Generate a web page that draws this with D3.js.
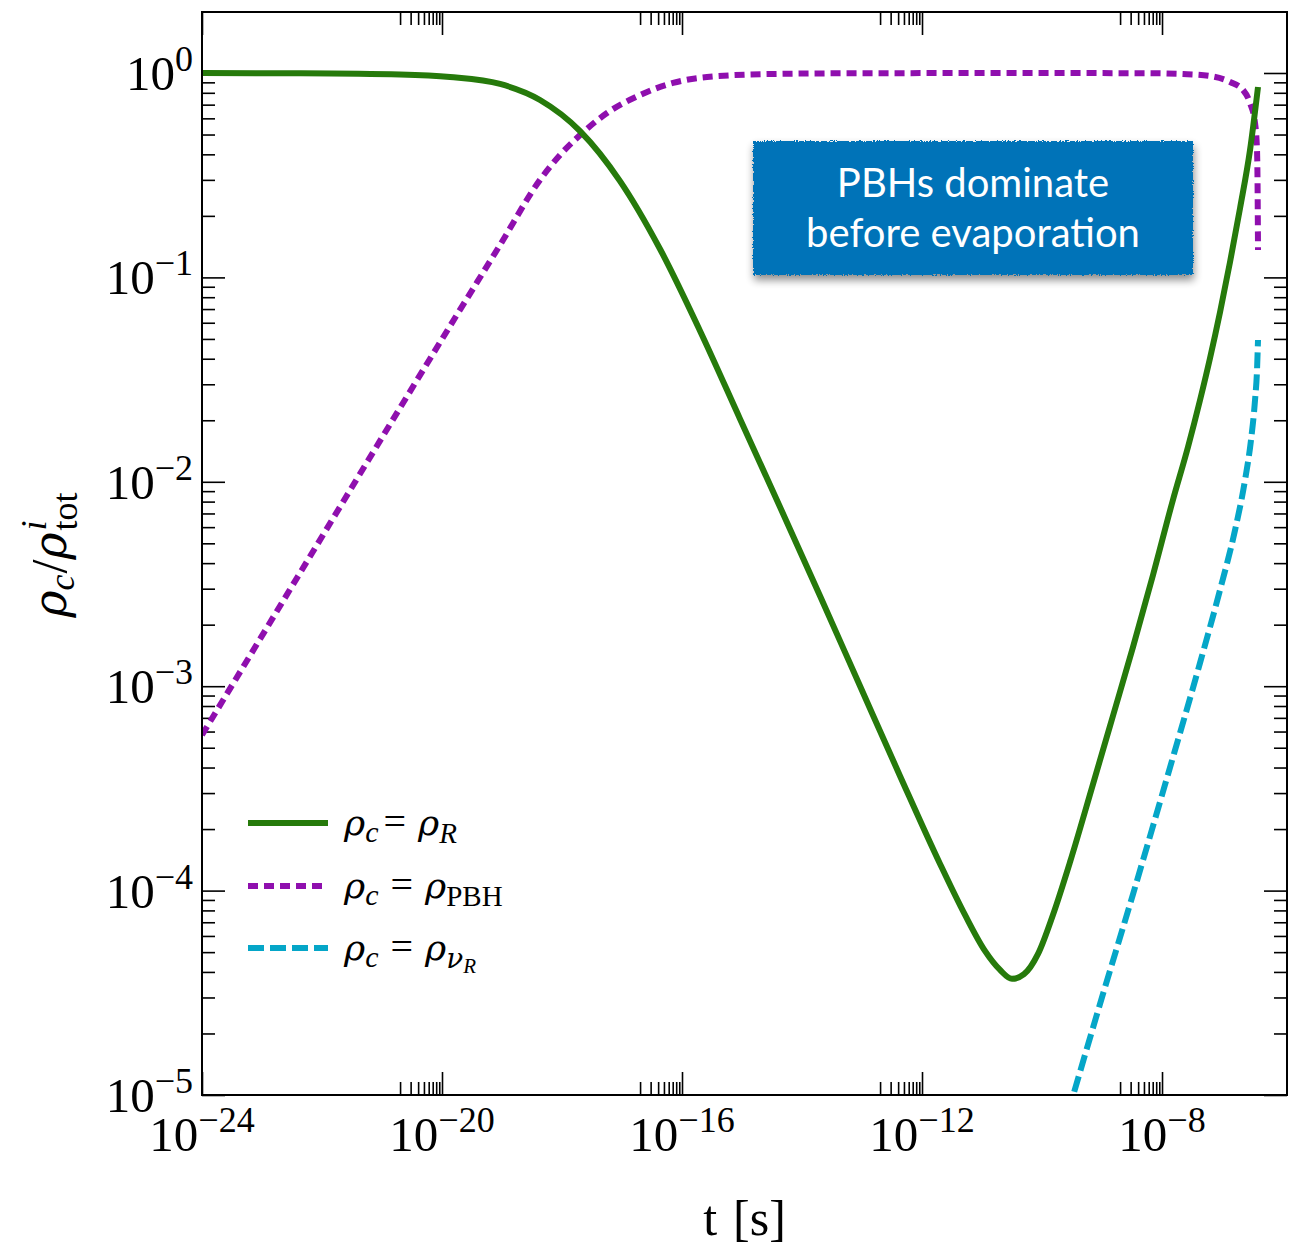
<!DOCTYPE html>
<html>
<head>
<meta charset="utf-8">
<script src="https://cdn.jsdelivr.net/npm/d3@7"></script>
<style>
  html, body { margin: 0; padding: 0; background: #ffffff; }
  svg { display: block; }
</style>
</head>
<body>
<svg id="chart" width="1307" height="1245"></svg>
<script>
// Energy density of each component, normalised to the initial total, vs cosmic time t [s].
// Each entry is [t, rho_c / rho_tot^i].
const radiation = [
  [1.00e-24, 1.000], [4.30e-23, 0.9966], [2.00e-21, 0.983], [1.36e-20, 0.956],
  [9.27e-20, 0.884], [4.30e-19, 0.738], [2.00e-18, 0.520], [9.27e-18, 0.296],
  [4.30e-17, 0.1377], [2.00e-16, 0.0547], [9.27e-16, 0.0203], [4.30e-15, 7.53e-3],
  [2.00e-14, 2.76e-3], [9.27e-14, 1.002e-3], [4.30e-13, 3.64e-4], [2.00e-12, 1.35e-4],
  [5.21e-12, 7.60e-5], [1.12e-11, 5.07e-5], [2.00e-11, 4.09e-5], [3.16e-11, 3.70e-5],
  [5.01e-11, 3.90e-5], [8.58e-11, 4.90e-5], [1.52e-10, 7.60e-5], [2.93e-10, 1.38e-4],
  [7.08e-10, 3.32e-4], [1.52e-9, 7.15e-4], [3.29e-9, 1.556e-3], [7.08e-9, 3.50e-3],
  [1.52e-8, 8.15e-3], [2.71e-8, 0.01480], [4.30e-8, 0.0251], [6.31e-8, 0.0403],
  [9.27e-8, 0.0677], [1.36e-7, 0.1189], [2.00e-7, 0.2186], [2.93e-7, 0.420],
  [3.98e-7, 0.854]
];
const pbh = [
  [1.00e-24, 5.77e-4], [4.30e-23, 3.58e-3], [2.00e-21, 0.0230], [1.36e-20, 0.0578],
  [9.27e-20, 0.144], [4.30e-19, 0.300], [9.27e-19, 0.397], [2.00e-18, 0.497],
  [5.62e-18, 0.637], [2.00e-17, 0.780], [7.08e-17, 0.894], [2.61e-16, 0.956],
  [3.29e-15, 0.989], [1.52e-13, 0.998], [2.00e-11, 0.999], [6.31e-9, 0.998],
  [2.24e-8, 0.989], [6.31e-8, 0.967], [1.36e-7, 0.904], [2.24e-7, 0.826],
  [2.93e-7, 0.713], [3.55e-7, 0.569], [3.83e-7, 0.420], [3.91e-7, 0.290], [3.98e-7, 0.136]
];
const neutrino = [
  [2.71e-10, 8.17e-6], [9.27e-10, 2.79e-5], [3.29e-9, 9.62e-5], [1.21e-8, 3.56e-4],
  [4.30e-8, 1.30e-3], [9.27e-8, 2.96e-3], [1.65e-7, 5.81e-3], [2.42e-7, 0.01021],
  [3.04e-7, 0.0160], [3.55e-7, 0.0251], [3.83e-7, 0.0352], [3.98e-7, 0.0494]
];

const xTickExponents = [-24, -20, -16, -12, -8];
const yTickExponents = [0, -1, -2, -3, -4, -5];
const boxLines = ["PBHs dominate", "before evaporation"];

const SERIF = "'Liberation Serif', 'DejaVu Serif', serif";
const GREEK = "'DejaVu Serif', 'Liberation Serif', serif";
const SANS = "Lato, 'Open Sans', sans-serif";

const margin = { left: 202, right: 1287, top: 12, bottom: 1095 };
const svg = d3.select("#chart");
const defs = svg.append("defs");

const x = d3.scaleLog()
  .domain([1e-24, Math.pow(10, -5.917)])
  .range([margin.left, margin.right]);
const y = d3.scaleLog()
  .domain([1e-5, Math.pow(10, 0.2984)])
  .range([margin.bottom, margin.top]);

// lay out a run of math pieces (base, sub/superscripts) left to right
function mathText(parent, pieces, px, py, anchor, rotate) {
  const g = parent.append("g");
  let cx = 0, prevStart = 0;
  pieces.forEach(p => {
    const t = g.append("text")
      .text(p.t)
      .attr("font-family", p.font || SERIF)
      .attr("font-size", p.size)
      .attr("font-style", p.italic ? "italic" : "normal")
      .attr("fill", "#000")
      .attr("y", -(p.shift || 0));
    const w = t.node().getComputedTextLength();
    let pos;
    if (p.stack) {
      pos = prevStart;
      cx = Math.max(cx, pos + w);
    } else {
      pos = cx + (p.dx || 0);
      prevStart = pos;
      cx = pos + w;
    }
    t.attr("x", pos);
  });
  let off = 0;
  if (anchor === "middle") off = -cx / 2;
  if (anchor === "end") off = -cx;
  g.attr("transform", `translate(${px},${py})` + (rotate ? ` rotate(${rotate})` : "") + ` translate(${off},0)`);
  return g;
}

// ---------- ticks ----------
const xMajor = xTickExponents.map(e => Math.pow(10, e));
const xMinor = [];
xTickExponents.slice(1).forEach(e => {
  for (let k = 2; k <= 9; k++) xMinor.push(k * Math.pow(10, e - 1));
});
const yMajor = yTickExponents.map(e => Math.pow(10, e));
const yMinor = [];
yTickExponents.forEach(e => {
  for (let k = 2; k <= 9; k++) {
    const v = k * Math.pow(10, e);
    if (v < y.domain()[1]) yMinor.push(v);
  }
});

const MAJOR = 23, MINOR = 13;
function styleAxis(g) {
  g.select(".domain").remove();
  g.selectAll(".tick line").attr("stroke", "#000").attr("stroke-width", 1.6);
  g.selectAll(".tick text").remove();
}
const axes = svg.append("g");
[[d3.axisBottom(x), `translate(0,${margin.bottom})`, xMajor, xMinor],
 [d3.axisTop(x), `translate(0,${margin.top})`, xMajor, xMinor],
 [d3.axisLeft(y), `translate(${margin.left},0)`, yMajor, yMinor],
 [d3.axisRight(y), `translate(${margin.right},0)`, yMajor, yMinor]
].forEach(([axisFn, tr, major, minor]) => {
  axes.append("g").attr("transform", tr)
    .call(axisFn.tickValues(major).tickSizeInner(-MAJOR).tickSizeOuter(0).tickFormat(""))
    .call(styleAxis);
  axes.append("g").attr("transform", tr)
    .call(axisFn.tickValues(minor).tickSizeInner(-MINOR).tickSizeOuter(0).tickFormat(""))
    .call(styleAxis);
});

// tick labels 10^n
const labels = svg.append("g");
xTickExponents.forEach(e => {
  mathText(labels, [
    { t: "10", size: 49 },
    { t: "\u2212" + Math.abs(e), size: 36, shift: 19 }
  ], x(Math.pow(10, e)), 1151, "middle");
});
yTickExponents.forEach(e => {
  mathText(labels, [
    { t: "10", size: 49 },
    { t: e === 0 ? "0" : "\u2212" + Math.abs(e), size: 36, shift: 19 }
  ], 193, y(Math.pow(10, e)) + 17, "end");
});

// axis titles
mathText(svg, [
  { t: "t", size: 50 },
  { t: "[s]", size: 50, dx: 16 }
], (margin.left + margin.right) / 2, 1235, "middle");

mathText(svg, [
  { t: "\u03c1", size: 46, italic: true, font: GREEK },
  { t: "c", size: 36, italic: true, shift: -8 },
  { t: "/", size: 50, dx: 1 },
  { t: "\u03c1", size: 46, italic: true, font: GREEK },
  { t: "i", size: 36, italic: true, shift: 20, dx: 2 },
  { t: "tot", size: 36, shift: -11, stack: true }
], 66, 555, "middle", -90);

// ---------- curves ----------
defs.append("clipPath").attr("id", "plot-clip")
  .append("rect")
  .attr("x", margin.left).attr("y", margin.top)
  .attr("width", margin.right - margin.left).attr("height", margin.bottom - margin.top);

const line = d3.line()
  .x(d => x(d[0]))
  .y(d => y(d[1]))
  .curve(d3.curveMonotoneX);

const series = [
  { data: pbh, color: "#8f0fae", dash: "10,6" },
  { data: neutrino, color: "#05a6c8", dash: "16,6" },
  { data: radiation, color: "#267a0b", dash: null }
];
const plot = svg.append("g").attr("clip-path", "url(#plot-clip)");
series.forEach(s => {
  plot.append("path")
    .datum(s.data)
    .attr("d", line)
    .attr("fill", "none")
    .attr("stroke", s.color)
    .attr("stroke-width", 6)
    .attr("stroke-dasharray", s.dash);
});

// ---------- legend ----------
const legendItems = [
  { color: "#267a0b", dash: null, len: 80, sub: [{ t: "R", size: 29, italic: true, shift: -8 }] },
  { color: "#8f0fae", dash: "10,6", len: 74, sub: [{ t: "PBH", size: 29, shift: -8 }] },
  { color: "#05a6c8", dash: "16,6", len: 80, sub: [
      { t: "\u03bd", size: 28, italic: true, shift: -8, font: GREEK },
      { t: "R", size: 21, italic: true, shift: -13 }
  ] }
];
const legendY = [823, 886, 948];
const legend = svg.append("g");
legendItems.forEach((it, i) => {
  legend.append("line")
    .attr("x1", 248).attr("x2", 248 + it.len)
    .attr("y1", legendY[i]).attr("y2", legendY[i])
    .attr("stroke", it.color).attr("stroke-width", 6)
    .attr("stroke-dasharray", it.dash);
  mathText(legend, [
    { t: "\u03c1", size: 36, italic: true, font: GREEK },
    { t: "c", size: 30, italic: true, shift: -7 },
    { t: "=", size: 40, dx: i === 0 ? 5 : 12 },
    { t: "\u03c1", size: 36, italic: true, font: GREEK, dx: 12 }
  ].concat(it.sub), 344, legendY[i] + 12, "start");
});

// ---------- annotation box ----------
const rough = defs.append("filter").attr("id", "rough")
  .attr("x", "-5%").attr("y", "-10%").attr("width", "110%").attr("height", "120%");
rough.append("feTurbulence").attr("type", "fractalNoise")
  .attr("baseFrequency", 0.7).attr("numOctaves", 2).attr("seed", 3).attr("result", "noise");
rough.append("feDisplacementMap").attr("in", "SourceGraphic").attr("in2", "noise")
  .attr("scale", 4).attr("xChannelSelector", "R").attr("yChannelSelector", "G");
const shadow = defs.append("filter").attr("id", "shadow")
  .attr("x", "-10%").attr("y", "-20%").attr("width", "120%").attr("height", "150%");
shadow.append("feGaussianBlur").attr("stdDeviation", 4);

const box = { x: 753, y: 141, w: 440, h: 134 };
svg.append("rect")
  .attr("x", box.x + 1).attr("y", box.y + 5).attr("width", box.w).attr("height", box.h)
  .attr("fill", "#000").attr("opacity", 0.45).attr("filter", "url(#shadow)");
svg.append("rect")
  .attr("x", box.x).attr("y", box.y).attr("width", box.w).attr("height", box.h)
  .attr("fill", "#0273b8").attr("filter", "url(#rough)");
const boxText = svg.append("g");
boxLines.forEach((txt, i) => {
  boxText.append("text")
    .attr("x", box.x + box.w / 2)
    .attr("y", 197 + i * 50)
    .attr("text-anchor", "middle")
    .attr("font-family", SANS)
    .attr("font-size", 40)
    .attr("font-weight", 400)
    .attr("fill", "#ffffff")
    .text(txt);
});

// plot frame
svg.append("rect")
  .attr("x", margin.left).attr("y", margin.top)
  .attr("width", margin.right - margin.left).attr("height", margin.bottom - margin.top)
  .attr("fill", "none").attr("stroke", "#000").attr("stroke-width", 2);
</script>
</body>
</html>
